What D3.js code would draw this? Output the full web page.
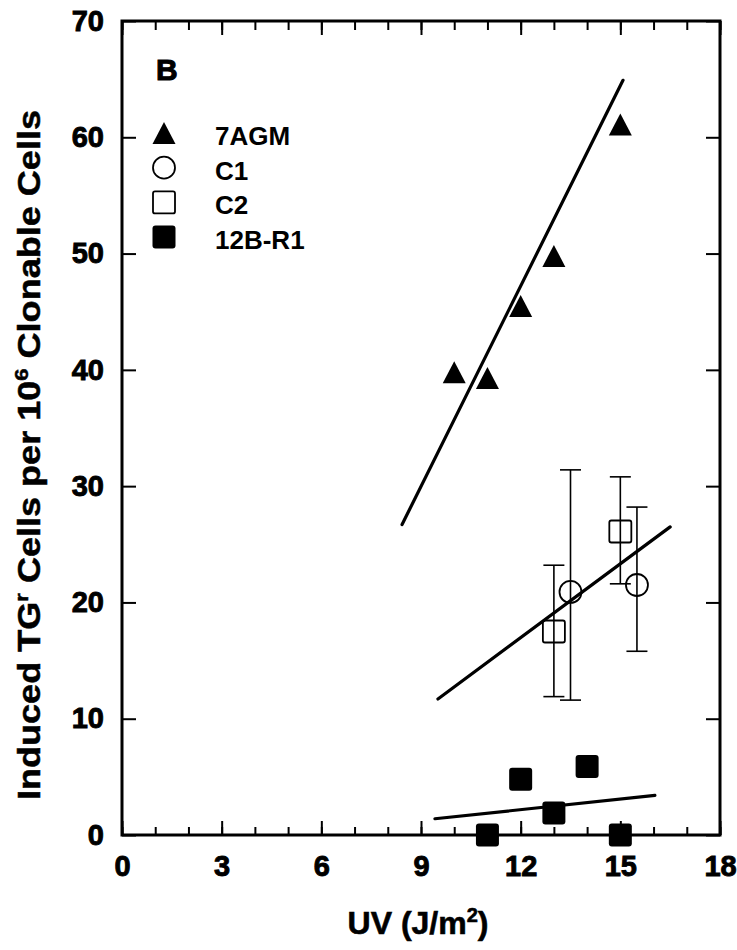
<!DOCTYPE html>
<html>
<head>
<meta charset="utf-8">
<script src="https://cdn.jsdelivr.net/npm/d3@7"></script>
<style>
  html, body { margin: 0; padding: 0; background: #fff; }
  svg { display: block; }
</style>
</head>
<body>
<svg id="chart" width="737" height="950"></svg>
<script>
// ---------- data ----------
const xTicks = [0, 3, 6, 9, 12, 15, 18];
const xMinorTicks = d3.range(0, 19, 1);
const yTicks = [0, 10, 20, 30, 40, 50, 60, 70];

const seriesNames = ["7AGM", "C1", "C2", "12B-R1"];

const agmX = [10, 11, 12, 13, 15];
const agmY = [39.8, 39.3, 45.5, 49.8, 61.1];

const c1X = [13.5, 15.5];
const c1Y = [20.9, 21.5];
const c1Lo = [11.6, 15.8];
const c1Hi = [31.4, 28.2];

const c2X = [13, 15];
const c2Y = [17.5, 26.1];
const c2Lo = [11.9, 21.6];
const c2Hi = [23.2, 30.8];

const r1X = [11, 12, 13, 14, 15];
const r1Y = [0, 4.8, 1.9, 5.9, 0];

// regression lines (end points, data units)
const agmFitX = [8.43, 15.08], agmFitY = [26.7, 64.9];
const cFitX = [9.51, 16.5], cFitY = [11.7, 26.5];
const r1FitX = [9.42, 16.04], r1FitY = [1.4, 3.4];

// ---------- layout ----------
const svg = d3.select("#chart");
const L = 122, R = 720, T = 21, B = 835;
const x = d3.scaleLinear().domain([0, 18]).range([L, R]);
const y = d3.scaleLinear().domain([0, 70]).range([B, T]);
const FONT = "'Liberation Sans', Arial, Helvetica, sans-serif";

function styleAxis(g, showText) {
  g.select(".domain").remove();
  g.selectAll(".tick line").attr("stroke", "#000").attr("stroke-width", 2);
  g.attr("font-family", FONT).attr("font-size", 29).attr("font-weight", "bold");
  g.selectAll(".tick text").attr("fill", "#000").attr("stroke", "#000").attr("stroke-width", 0.9);
  if (!showText) g.selectAll(".tick text").remove();
}

// bottom axis
svg.append("g").attr("transform", `translate(0,${B})`)
  .call(d3.axisBottom(x).tickValues(xMinorTicks).tickSize(-8).tickFormat(""))
  .call(g => styleAxis(g, false));
svg.append("g").attr("transform", `translate(0,${B})`)
  .call(d3.axisBottom(x).tickValues(xTicks).tickSize(-14).tickPadding(20).tickFormat(d3.format("d")))
  .call(g => styleAxis(g, true));
// top axis
svg.append("g").attr("transform", `translate(0,${T})`)
  .call(d3.axisTop(x).tickValues(xMinorTicks).tickSize(-9).tickFormat(""))
  .call(g => styleAxis(g, false));
svg.append("g").attr("transform", `translate(0,${T})`)
  .call(d3.axisTop(x).tickValues(xTicks).tickSize(-14).tickFormat(""))
  .call(g => styleAxis(g, false));
// left axis
svg.append("g").attr("transform", `translate(${L},0)`)
  .call(d3.axisLeft(y).tickValues(yTicks).tickSize(-14).tickPadding(18).tickFormat(d3.format("d")))
  .call(g => styleAxis(g, true));
// right axis
svg.append("g").attr("transform", `translate(${R},0)`)
  .call(d3.axisRight(y).tickValues(yTicks).tickSize(-14).tickFormat(""))
  .call(g => styleAxis(g, false));

// frame
svg.append("rect")
  .attr("x", L).attr("y", T).attr("width", R - L).attr("height", B - T)
  .attr("fill", "none").attr("stroke", "#000").attr("stroke-width", 3);

// ---------- fit lines ----------
const line = d3.line().x(d => x(d[0])).y(d => y(d[1]));
[[agmFitX, agmFitY], [cFitX, cFitY], [r1FitX, r1FitY]].forEach(([fx, fy]) => {
  svg.append("path")
    .datum(fx.map((v, i) => [v, fy[i]]))
    .attr("d", line)
    .attr("fill", "none").attr("stroke", "#000").attr("stroke-width", 3.2)
    .attr("stroke-linecap", "round");
});

// ---------- error bars ----------
const CAP = 10.5;
function errorBars(xs, lo, hi) {
  const g = svg.append("g").attr("stroke", "#000").attr("stroke-width", 1.6);
  xs.forEach((xv, i) => {
    g.append("line").attr("x1", x(xv)).attr("x2", x(xv)).attr("y1", y(lo[i])).attr("y2", y(hi[i]));
    g.append("line").attr("x1", x(xv) - CAP).attr("x2", x(xv) + CAP).attr("y1", y(lo[i])).attr("y2", y(lo[i]));
    g.append("line").attr("x1", x(xv) - CAP).attr("x2", x(xv) + CAP).attr("y1", y(hi[i])).attr("y2", y(hi[i]));
  });
}
errorBars(c2X, c2Lo, c2Hi);
errorBars(c1X, c1Lo, c1Hi);

// ---------- markers ----------
const triPath = "M0,-11L11.5,11L-11.5,11Z";
function drawTri(g, cx, cy) {
  g.append("path").attr("d", triPath).attr("transform", `translate(${cx},${cy})`).attr("fill", "#000");
}
function drawCircle(g, cx, cy) {
  g.append("circle").attr("cx", cx).attr("cy", cy).attr("r", 11)
    .attr("fill", "none").attr("stroke", "#000").attr("stroke-width", 1.8);
}
function drawOpenSq(g, cx, cy) {
  g.append("rect").attr("x", cx - 11).attr("y", cy - 11).attr("width", 22).attr("height", 22)
    .attr("rx", 2).attr("fill", "none").attr("stroke", "#000").attr("stroke-width", 1.8);
}
function drawFilledSq(g, cx, cy) {
  g.append("rect").attr("x", cx - 11.5).attr("y", cy - 11.5).attr("width", 23).attr("height", 23)
    .attr("rx", 3).attr("fill", "#000");
}
const mg = svg.append("g");
agmX.forEach((v, i) => drawTri(mg, x(v), y(agmY[i])));
c1X.forEach((v, i) => drawCircle(mg, x(v), y(c1Y[i])));
c2X.forEach((v, i) => drawOpenSq(mg, x(v), y(c2Y[i])));
r1X.forEach((v, i) => drawFilledSq(mg, x(v), y(r1Y[i])));

// ---------- panel label & legend ----------
svg.append("text").attr("x", 156).attr("y", 80)
  .attr("font-family", FONT).attr("font-size", 30).attr("font-weight", "bold")
  .attr("stroke", "#000").attr("stroke-width", 1).text("B");

const drawers = [drawTri, drawCircle, drawOpenSq, drawFilledSq];
const lg = svg.append("g");
seriesNames.forEach((name, i) => {
  const cy = 133 + i * 34.7;
  drawers[i](lg, 164, cy);
  lg.append("text").attr("x", 215).attr("y", cy + 12)
    .attr("font-family", FONT).attr("font-size", 26).attr("font-weight", "bold")
    .text(name);
});

// ---------- axis titles ----------
const xt = svg.append("text")
  .attr("x", 418).attr("y", 934).attr("text-anchor", "middle")
  .attr("font-family", FONT).attr("font-size", 32).attr("font-weight", "bold")
  .attr("stroke", "#000").attr("stroke-width", 0.6);
xt.append("tspan").text("UV (J/m");
xt.append("tspan").attr("font-size", 20).attr("dy", -12).text("2");
xt.append("tspan").attr("dy", 12).text(")");

const yt = svg.append("text")
  .attr("transform", "translate(40,455) rotate(-90)")
  .attr("text-anchor", "middle")
  .attr("textLength", 690).attr("lengthAdjust", "spacingAndGlyphs")
  .attr("font-family", FONT).attr("font-size", 31).attr("font-weight", "bold")
  .attr("stroke", "#000").attr("stroke-width", 0.5);
yt.append("tspan").text("Induced TG");
yt.append("tspan").attr("font-size", 19).attr("dy", -12).text("r");
yt.append("tspan").attr("dy", 12).text(" Cells per 10");
yt.append("tspan").attr("font-size", 19).attr("dy", -12).text("6");
yt.append("tspan").attr("dy", 12).text(" Clonable Cells");
</script>
</body>
</html>
